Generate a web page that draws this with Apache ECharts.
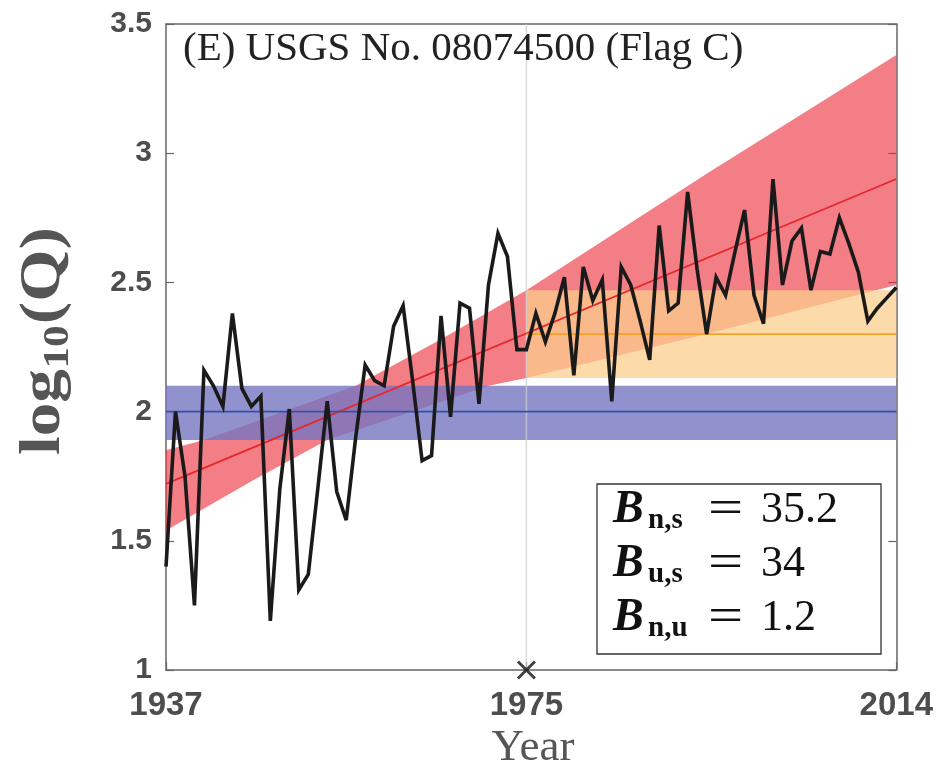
<!DOCTYPE html>
<html>
<head>
<meta charset="utf-8">
<script src="https://cdn.jsdelivr.net/npm/echarts@6/dist/echarts.min.js"></script>
<style>html,body{margin:0;padding:0;background:#fff}#c{width:936px;height:766px}</style>
</head>
<body>
<div id="c"></div>
<script>
// ---------------- data ----------------
const startYear = 1937;
const logQ = [
  1.40, 2.00, 1.75, 1.25, 2.16, 2.10, 2.02, 2.38, 2.09, 2.02,
  2.06, 1.19, 1.70, 2.01, 1.31, 1.37, 1.70, 2.04, 1.69, 1.58,
  1.90, 2.18, 2.12, 2.10, 2.33, 2.41, 2.12, 1.81, 1.83, 2.37,
  1.98, 2.42, 2.40, 2.03, 2.49, 2.69, 2.60, 2.24, 2.24, 2.38,
  2.27, 2.38, 2.52, 2.14, 2.56, 2.43, 2.51, 2.04, 2.56, 2.49,
  2.35, 2.20, 2.72, 2.39, 2.42, 2.85, 2.55, 2.30, 2.52, 2.45,
  2.62, 2.78, 2.45, 2.34, 2.90, 2.49, 2.66, 2.71, 2.47, 2.62,
  2.61, 2.75, 2.65, 2.54, 2.35, 2.40, 2.44, 2.48
];
const years = logQ.map((_, i) => startYear + i);

// nonstationary (red) trend and its band edges
const trendYears = [1937, 2014];
const trendVals = [1.72, 2.90];
const redUpperYears = [1937, 1941, 1957, 1966, 1975, 1994, 2014];
const redUpperVals  = [1.85, 1.89, 2.10, 2.28, 2.47, 2.92, 3.38];
const redLowerYears = [1937, 1946, 1954, 1963, 1971, 1975, 1994, 2014];
const redLowerVals  = [1.54, 1.73, 1.89, 2.00, 2.10, 2.13, 2.30, 2.49];

// stationary (blue) model
const blueYears = [1937, 2014];
const blueMean = 2.00, blueLow = 1.89, blueHigh = 2.10;

// updated stationary (orange) model
const orangeYears = [1975, 2014];
const orangeMean = 2.30, orangeLow = 2.13, orangeHigh = 2.47;

const changeYear = 1975;
const xTicks = [1937, 1975, 2014];
const yMin = 1, yMax = 3.5, yStep = 0.5;

const title = '(E) USGS No. 08074500 (Flag C)';
const stats = [
  {sub: 'n,s', val: '35.2'},
  {sub: 'u,s', val: '34'},
  {sub: 'n,u', val: '1.2'}
];

// ---------------- chart ----------------
const chart = echarts.init(document.getElementById('c'), null, {renderer: 'canvas'});

function polygonSeries(name, upperX, upperY, lowerX, lowerY, fill) {
  return {
    name, type: 'custom', silent: true,
    data: [[upperX[0], upperY[0]]],
    renderItem: function (params, api) {
      const pts = [];
      for (let i = 0; i < upperX.length; i++) pts.push(api.coord([upperX[i], upperY[i]]));
      for (let i = lowerX.length - 1; i >= 0; i--) pts.push(api.coord([lowerX[i], lowerY[i]]));
      return {type: 'polygon', shape: {points: pts}, style: {fill: fill}};
    }
  };
}

const axisColor = '#666';
const labelFont = {fontFamily: 'Liberation Sans', fontWeight: 'bold', color: '#4d4d4d'};

function txt(x, y, text, size, extra) {
  return Object.assign({type: 'text', x: x, y: y, z: 101, silent: true,
    style: Object.assign({text: text, fontSize: size, fontFamily: 'Liberation Serif', fill: '#111',
      align: 'left', verticalAlign: 'middle', textAlign: 'left', textVerticalAlign: 'middle'}, extra || {})});
}

const option = {
  animation: false,
  backgroundColor: '#fff',
  grid: {left: 166, right: 39, top: 24, bottom: 96, containLabel: false},
  xAxis: [{
    type: 'value', min: 1937, max: 2014, position: 'bottom',
    axisLine: {show: true, onZero: false, lineStyle: {color: axisColor, width: 1.5}},
    axisTick: {show: true, inside: true, length: 8, customValues: xTicks, lineStyle: {color: axisColor, width: 1.2}},
    axisLabel: Object.assign({show: true, customValues: xTicks, fontSize: 33, margin: 19, formatter: v => String(v)}, labelFont),
    splitLine: {show: false}
  }, {
    type: 'value', min: 1937, max: 2014, position: 'top',
    axisLine: {show: true, onZero: false, lineStyle: {color: axisColor, width: 1.5}},
    axisTick: {show: false}, axisLabel: {show: false}, splitLine: {show: false}
  }],
  yAxis: [{
    type: 'value', min: yMin, max: yMax, interval: yStep, position: 'left',
    axisLine: {show: true, onZero: false, lineStyle: {color: axisColor, width: 1.5}},
    axisTick: {show: true, inside: true, length: 8, lineStyle: {color: axisColor, width: 1.2}},
    axisLabel: Object.assign({show: true, fontSize: 30, margin: 14}, labelFont),
    splitLine: {show: false}
  }, {
    type: 'value', min: yMin, max: yMax, interval: yStep, position: 'right',
    axisLine: {show: true, onZero: false, lineStyle: {color: axisColor, width: 1.5}},
    axisTick: {show: true, inside: true, length: 8, lineStyle: {color: axisColor, width: 1.2}},
    axisLabel: {show: false}, splitLine: {show: false}
  }],
  series: [
    polygonSeries('redBand', redUpperYears, redUpperVals, redLowerYears, redLowerVals, 'rgba(236,40,52,0.6)'),
    polygonSeries('orangeBand', orangeYears, [orangeHigh, orangeHigh], orangeYears, [orangeLow, orangeLow], 'rgba(252,206,142,0.75)'),
    polygonSeries('blueBand', blueYears, [blueHigh, blueHigh], blueYears, [blueLow, blueLow], 'rgba(118,118,192,0.8)'),
    {
      type: 'line', silent: true, symbol: 'none',
      data: [[changeYear, yMin], [changeYear, yMax]],
      lineStyle: {color: 'rgba(205,205,205,0.75)', width: 1.5}
    },
    {
      type: 'line', silent: true, symbol: 'none',
      data: trendYears.map((y, i) => [y, trendVals[i]]),
      lineStyle: {color: '#e8262b', width: 1.8}
    },
    {
      type: 'line', silent: true, symbol: 'none',
      data: blueYears.map(y => [y, blueMean]),
      lineStyle: {color: '#3352ad', width: 1.8}
    },
    {
      type: 'line', silent: true, symbol: 'none',
      data: orangeYears.map(y => [y, orangeMean]),
      lineStyle: {color: '#f5a22a', width: 1.8}
    },
    {
      type: 'line', silent: true, symbol: 'none',
      data: years.map((y, i) => [y, logQ[i]]),
      lineStyle: {color: '#1a1a1a', width: 3.6, join: 'miter', miterLimit: 4}
    },
    {
      type: 'scatter', silent: true, clip: false, z: 10,
      data: [[changeYear, yMin]],
      symbol: 'path://M0,0L10,10M10,0L0,10', symbolSize: 17,
      itemStyle: {color: 'rgba(0,0,0,0)', borderColor: '#111', borderWidth: 3}
    }
  ],
  graphic: {
    elements: [
      txt(183, 49, title, 41, {fill: '#222'}),
      txt(533, 748, 'Year', 45, {fill: '#555', align: 'center', textAlign: 'center'}),
      {type: 'group', x: 45, y: 455, rotation: Math.PI / 2, scaleX: 1.2, silent: true, z: 100,
        children: [
          txt(0, 0, 'log', 56, {fontWeight: 'bold', fill: '#555'}),
          txt(72, 14, '10', 36, {fontWeight: 'bold', fill: '#555'}),
          txt(109, 0, '(Q)', 56, {fontWeight: 'bold', fill: '#555'})
        ]},
      {type: 'rect', shape: {x: 597, y: 484, width: 284, height: 170}, z: 100, silent: true,
        style: {fill: '#fff', stroke: '#333', lineWidth: 1.3}}
    ].concat(stats.flatMap((s, i) => {
      const yMid = 510 + i * 54;
      return [
        txt(613, yMid, 'B', 46, {fontWeight: 'bold', fontStyle: 'italic'}),
        txt(648, yMid + 11, s.sub, 29, {fontWeight: 'bold'}),
        {type: 'group', x: 708, y: yMid, scaleX: 1.3, z: 101, silent: true, children: [txt(0, 0, '=', 48)]},
        txt(761, yMid, s.val, 44)
      ];
    }))
  }
};
chart.setOption(option);
</script>
</body>
</html>
